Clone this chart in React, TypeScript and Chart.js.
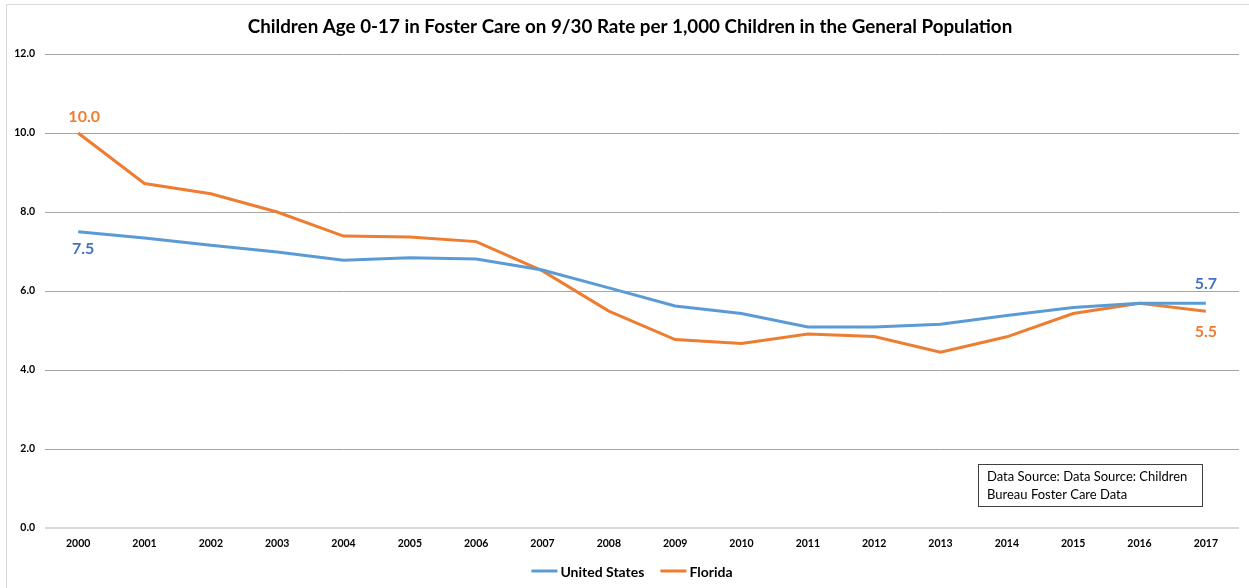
import { useEffect, useRef } from 'react';
import { Chart, registerables } from 'chart.js';

Chart.register(...registerables);

const titleText = 'Children Age 0-17 in Foster Care on 9/30 Rate per 1,000 Children in the General Population';
const years = ['2000', '2001', '2002', '2003', '2004', '2005', '2006', '2007', '2008', '2009', '2010', '2011', '2012', '2013', '2014', '2015', '2016', '2017'];
const usValues = [7.5, 7.34, 7.16, 6.99, 6.78, 6.84, 6.81, 6.53, 6.08, 5.62, 5.43, 5.09, 5.09, 5.16, 5.38, 5.58, 5.69, 5.69];
const flValues = [10.0, 8.72, 8.46, 8.0, 7.39, 7.37, 7.25, 6.51, 5.49, 4.77, 4.67, 4.91, 4.85, 4.45, 4.84, 5.43, 5.69, 5.49];
const sourceLines = ['Data Source: Data Source: Children', 'Bureau Foster Care Data'];

const FONT = 'Lato, "Open Sans", "DejaVu Sans", sans-serif';
const US_LINE = '#5B9BD5';
const US_LABEL = '#4472C4';
const FL_COLOR = '#ED7D31';

const decor = {
  id: 'decor',
  beforeDraw(chart: any) {
    const ctx = chart.ctx;
    ctx.save();
    ctx.fillStyle = '#ffffff';
    ctx.fillRect(0, 0, chart.width, chart.height);
    ctx.strokeStyle = '#d9d9d9';
    ctx.lineWidth = 1;
    ctx.beginPath();
    ctx.moveTo(6.5, chart.height);
    ctx.lineTo(6.5, 4.5);
    ctx.lineTo(chart.width, 4.5);
    ctx.stroke();
    ctx.restore();
  },
  afterDraw(chart: any) {
    const ctx = chart.ctx;
    ctx.save();
    // title
    ctx.fillStyle = '#000000';
    ctx.font = `bold 18.8px ${FONT}`;
    ctx.textAlign = 'center';
    ctx.textBaseline = 'middle';
    ctx.fillText(titleText, 630, 27);

    // data labels
    const us = chart.getDatasetMeta(0).data;
    const fl = chart.getDatasetMeta(1).data;
    const last = years.length - 1;
    ctx.font = `bold 16px ${FONT}`;
    ctx.fillStyle = FL_COLOR;
    ctx.fillText(flValues[0].toFixed(1), fl[0].x + 6, fl[0].y - 16);
    ctx.fillText(flValues[last].toFixed(1), fl[last].x, fl[last].y + 21);
    ctx.fillStyle = US_LABEL;
    ctx.fillText(usValues[0].toFixed(1), us[0].x + 5, us[0].y + 17);
    ctx.fillText(usValues[last].toFixed(1), us[last].x, us[last].y - 19);

    // legend
    const legendY = 571;
    const items = chart.data.datasets.map((d: any) => ({ label: d.label, color: d.borderColor }));
    ctx.font = `bold 14px ${FONT}`;
    ctx.textAlign = 'left';
    const sample = 26;
    const gap = 3;
    const itemGap = 16;
    const widths = items.map((it: any) => sample + gap + ctx.measureText(it.label).width);
    const total = widths.reduce((a: number, b: number) => a + b, 0) + itemGap * (items.length - 1);
    let x = 632 - total / 2;
    items.forEach((it: any, i: number) => {
      ctx.strokeStyle = it.color;
      ctx.lineWidth = 3;
      ctx.beginPath();
      ctx.moveTo(x, legendY);
      ctx.lineTo(x + sample, legendY);
      ctx.stroke();
      ctx.fillStyle = '#000000';
      ctx.fillText(it.label, x + sample + gap, legendY + 1);
      x += widths[i] + itemGap;
    });

    // source box
    const bx = 978.5, by = 464.5, bw = 224, bh = 42;
    ctx.fillStyle = '#ffffff';
    ctx.fillRect(bx, by, bw, bh);
    ctx.strokeStyle = '#404040';
    ctx.lineWidth = 1;
    ctx.strokeRect(bx, by, bw, bh);
    ctx.fillStyle = '#000000';
    ctx.font = `13px ${FONT}`;
    ctx.textBaseline = 'middle';
    ctx.fillText(sourceLines[0], 987, 477);
    ctx.fillText(sourceLines[1], 987, 495);
    ctx.restore();
  },
};

export default function App() {
  const ref = useRef<HTMLCanvasElement>(null);
  useEffect(() => {
    const chart = new Chart(ref.current!, {
      type: 'line',
      data: {
        labels: years,
        datasets: [
          {
            label: 'United States',
            data: usValues,
            borderColor: US_LINE,
            backgroundColor: US_LINE,
            borderWidth: 3,
            pointRadius: 0,
            tension: 0,
          },
          {
            label: 'Florida',
            data: flValues,
            borderColor: FL_COLOR,
            backgroundColor: FL_COLOR,
            borderWidth: 3,
            pointRadius: 0,
            tension: 0,
          },
        ],
      },
      options: {
        responsive: false,
        animation: false,
        layout: { padding: { top: 54, right: 10, bottom: 0, left: 0 } },
        plugins: {
          legend: { display: false },
          title: { display: false },
          tooltip: { enabled: false },
        },
        scales: {
          x: {
            offset: true,
            grid: { display: false, drawTicks: false },
            border: { display: false },
            ticks: {
              color: '#000000',
              font: { family: FONT, size: 10.5, weight: 'bold' },
              padding: 9,
              maxRotation: 0,
              autoSkip: false,
            },
            afterFit: (s: any) => {
              s.height = 60;
            },
          },
          y: {
            min: 0,
            max: 12,
            ticks: {
              stepSize: 2,
              color: '#000000',
              font: { family: FONT, size: 10.5, weight: 'bold' },
              padding: 10,
              callback: (v: any) => Number(v).toFixed(1),
            },
            grid: {
              drawTicks: false,
              color: (c: any) => (c.tick && c.tick.value === 0 ? '#d9d9d9' : '#a6a6a6'),
              lineWidth: (c: any) => (c.tick && c.tick.value === 0 ? 2 : 1),
            },
            border: { display: false },
            afterFit: (s: any) => {
              s.width = 45;
            },
          },
        },
      } as any,
      plugins: [decor],
    });
    return () => chart.destroy();
  }, []);
  return (
    <div style={{ position: 'absolute', left: 0, top: 0, width: 1249, height: 588, background: '#fff' }}>
      <canvas ref={ref} width={1249} height={588} style={{ display: 'block' }} />
    </div>
  );
}
